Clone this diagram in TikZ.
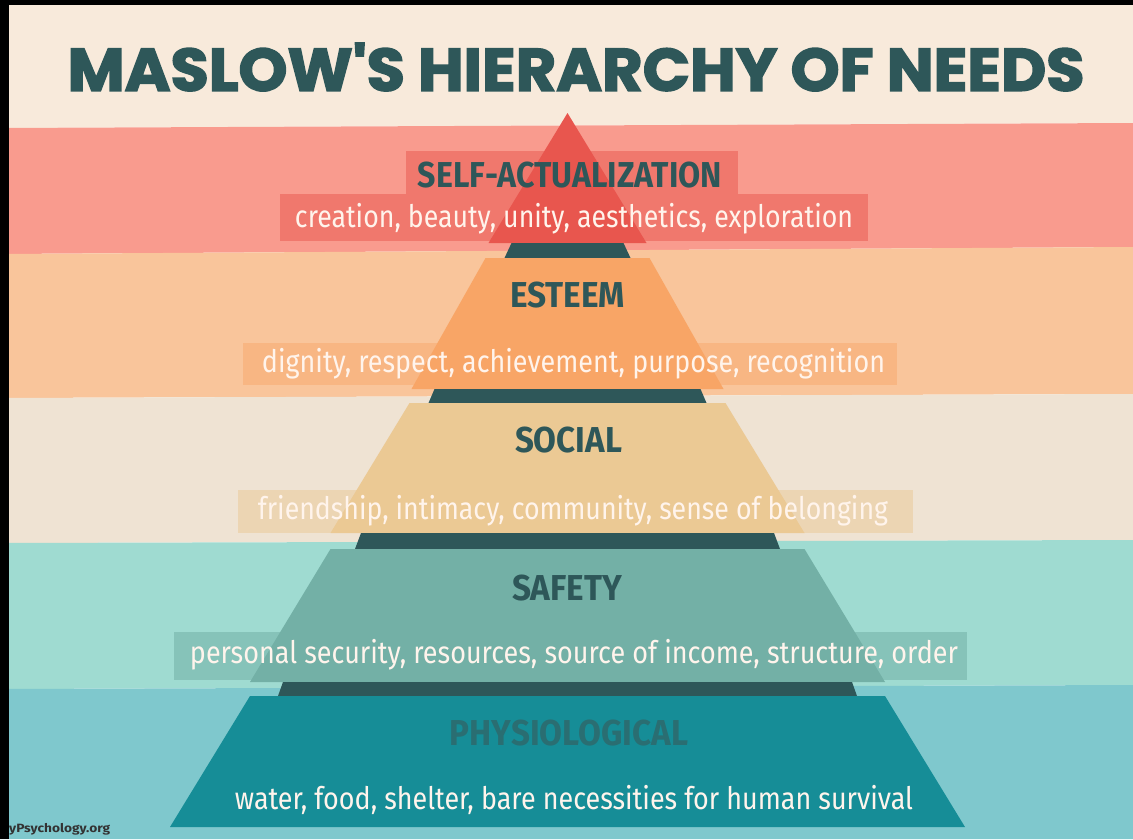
\documentclass[tikz,border=0pt]{standalone}
\usepackage{fontspec}
\usepackage{graphicx}
\setmainfont{Fira Sans}
\newfontfamily\titlefont[BoldFeatures={FakeBold=2.5}]{Poppins}
\newfontfamily\headfont{Fira Sans}
\definecolor{bandcream}{HTML}{F8EADB}
\definecolor{bandred}{HTML}{F99B8E}
\definecolor{bandorange}{HTML}{F9C59B}
\definecolor{bandbeige}{HTML}{EFE3D3}
\definecolor{bandlteal}{HTML}{9FDBD1}
\definecolor{bandteal}{HTML}{7FC8CD}
\definecolor{layred}{HTML}{E8564E}
\definecolor{layorange}{HTML}{F8A566}
\definecolor{laytan}{HTML}{EBC994}
\definecolor{laysafety}{HTML}{73B0A6}
\definecolor{layphysio}{HTML}{168D97}
\definecolor{darkbar}{HTML}{2E5759}
\definecolor{headcol}{HTML}{2E5759}
\definecolor{physiohead}{HTML}{2A6E72}
\definecolor{subcol}{HTML}{FFF4EC}
\newcommand{\fitw}[2]{\resizebox{#1}{\height}{#2}}
\tikzset{
  titletext/.style={inner sep=0pt, text=headcol, font=\titlefont\bfseries\fontsize{60}{60}\selectfont},
  headtext/.style={inner sep=0pt, text=headcol, font=\headfont\bfseries\fontsize{36}{36}\selectfont},
  subtext/.style={inner sep=0pt, text=subcol, anchor=base, font=\fontsize{31}{31}\selectfont},
  labelbox/.style={fill opacity=0.5},
  barshape/.style={fill=darkbar}
}
\begin{document}
\begin{tikzpicture}[x=1pt,y=-1pt]
\useasboundingbox (0,0) rectangle (1133,839);
% background bands
\fill[bandcream]  (0,0) -- (1133,0) -- (1133,123) -- (0,128) -- cycle;
\fill[bandred]    (0,128) -- (1133,123) -- (1133,247) -- (0,254) -- cycle;
\fill[bandorange] (0,254) -- (1133,247) -- (1133,394) -- (0,398) -- cycle;
\fill[bandbeige]  (0,398) -- (1133,394) -- (1133,540) -- (0,543) -- cycle;
\fill[bandlteal]  (0,543) -- (1133,540) -- (1133,685) -- (0,689) -- cycle;
\fill[bandteal]   (0,689) -- (1133,685) -- (1133,839) -- (0,839) -- cycle;
% black frame strips
\fill[black] (0,0) rectangle (1133,5);
\fill[black] (0,0) rectangle (9,839);
% pyramid
\fill[layred] (567.5,113) -- (646.5,243) -- (488.5,243) -- cycle;
\fill[barshape] (511.5,243) -- (623.5,243) -- (630.5,258) -- (504.5,258) -- cycle;
\fill[layorange] (485.5,258) -- (649.5,258) -- (723.5,389) -- (411.5,389) -- cycle;
\fill[barshape] (434.5,389) -- (700.5,389) -- (706.5,403) -- (428.5,403) -- cycle;
\fill[laytan] (409.5,403) -- (725.5,403) -- (804.5,533) -- (330.5,533) -- cycle;
\fill[barshape] (361,533) -- (774,533) -- (780,549) -- (355,549) -- cycle;
\fill[laysafety] (330.5,549) -- (804.5,549) -- (885,682) -- (250,682) -- cycle;
\fill[barshape] (283,682) -- (852,682) -- (857,696) -- (278,696) -- cycle;
\fill[layphysio] (250,696) -- (885,696) -- (965,827) -- (170,827) -- cycle;
% label boxes
\fill[layred, labelbox] (406,151) rectangle (738,194);
\fill[layred, labelbox] (280,194) rectangle (868,241);
\fill[layorange, fill opacity=0.45] (243,343) rectangle (897,385);
\fill[laytan, labelbox] (238,490) rectangle (913,533);
\fill[laysafety, fill opacity=0.55] (174,632) rectangle (967,680);
% title
\node[titletext] (title) at (576,67) {\fitw{1017pt}{MASLOW'S HIERARCHY OF NEEDS}};
% headings
\node[headtext] (selfhead) at (570,175) {\fitw{304pt}{SELF-ACTUALIZATION}};
\node[headtext] (esteemhead) at (567.5,295) {\fitw{115pt}{ESTEEM}};
\node[headtext] (socialhead) at (568.5,440) {\fitw{107pt}{SOCIAL}};
\node[headtext] (safetyhead) at (567,588) {\fitw{110pt}{SAFETY}};
\node[headtext, text=physiohead] (physiohead) at (569,733) {\fitw{238pt}{PHYSIOLOGICAL}};
% subtitles
\node[subtext] (selfsub) at (574,227) {\fitw{558pt}{creation, beauty, unity, aesthetics, exploration}};
\node[subtext] (esteemsub) at (573.5,372) {\fitw{623pt}{dignity, respect, achievement, purpose, recognition}};
\node[subtext] (socialsub) at (573,519) {\fitw{630pt}{friendship, intimacy, community, sense of belonging}};
\node[subtext] (safetysub) at (574,663) {\fitw{768pt}{personal security, resources, source of income, structure, order}};
\node[subtext] (physiosub) at (574,809) {\fitw{678pt}{water, food, shelter, bare necessities for human survival}};
% watermark
\node[inner sep=0pt, anchor=west, text=black!80, font=\bfseries\fontsize{12}{12}\selectfont] (mark) at (9,829) {\fitw{101pt}{yPsychology.org}};
\end{tikzpicture}
\end{document}
